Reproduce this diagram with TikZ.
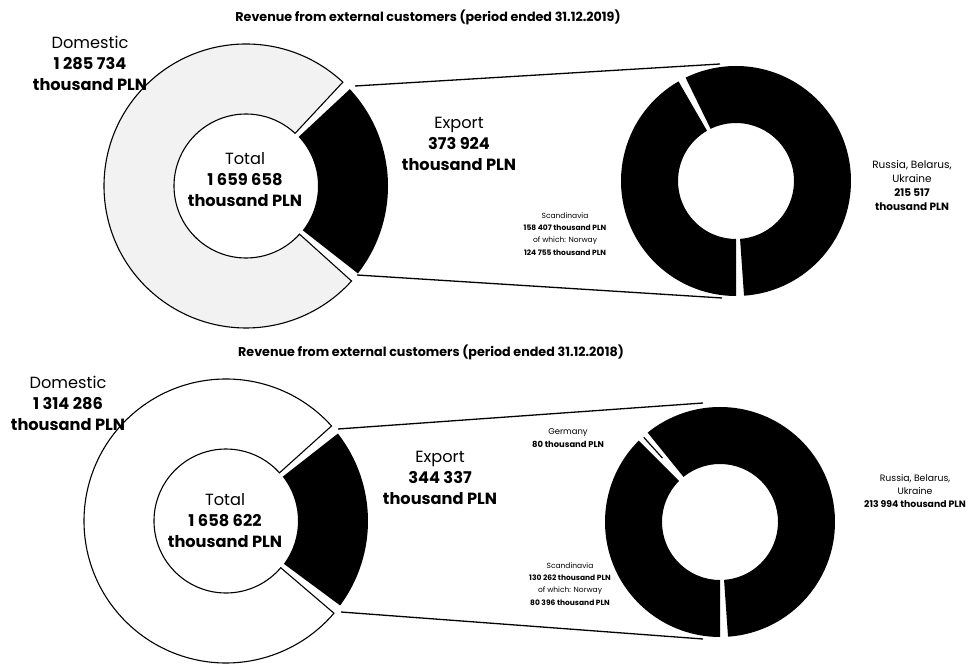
\documentclass[tikz,border=0pt]{standalone}
\usepackage{fontspec}
\setmainfont{Poppins}
\usepackage{tikz}
\usetikzlibrary{calc}
\newcommand{\ringout}{142}
\newcommand{\ringin}{72}
\newcommand{\smallout}{115}
\newcommand{\smallin}{58}
% [style]{centre}{from}{to}{inner}{outer}
\newcommand{\ringslice}[6][]{%
  \path[#1] ([shift={(#3:#6)}]#2) arc[start angle=#3, end angle=#4, radius=#6]
    -- ([shift={(#4:#5)}]#2) arc[start angle=#4, end angle=#3, radius=#5] -- cycle;}
\tikzset{
    common/.style={align=center, inner sep=1pt},
    title/.style={common, font=\fontsize{12.7}{15}\selectfont\bfseries},
    biglabel/.style={common, font=\fontsize{16.2}{21}\selectfont},
    smalllabel/.style={common, font=\fontsize{7.5}{12.3}\selectfont},
    midlabel/.style={common, font=\fontsize{9.3}{13}\selectfont},
    domestic/.style={draw, line width=1.1pt, fill=white},
    domesticgrey/.style={domestic, fill=black!5},
    export/.style={fill=black},
    leader/.style={line width=1.3pt},
    thinslice/.style={draw, line width=1.2pt}
}
\begin{document}
\begin{tikzpicture}[x=1pt, y=1pt]
  \useasboundingbox (0,0) rectangle (973,666);

  \coordinate (c19) at (246,480);
  \coordinate (e19) at (736,485);
  \coordinate (c18) at (226,145);
  \coordinate (e18) at (720,144);

  % 2019
  \ringslice[domesticgrey]{c19}{47}{318}{\ringin}{\ringout}
  \ringslice[export]{c19}{-38}{43}{\ringin}{\ringout}
  \ringslice[export]{e19}{120}{270}{\smallin}{\smallout}
  \ringslice[export]{e19}{-86}{116}{\smallin}{\smallout}

  % 2018
  \ringslice[domestic]{c18}{42}{319.5}{\ringin}{\ringout}
  \ringslice[export]{c18}{-36.5}{38}{\ringin}{\ringout}
  \ringslice[export]{e18}{135}{270}{\smallin}{\smallout}
  \ringslice[export]{e18}{-86}{129}{\smallin}{\smallout}
  \draw[thinslice] ([shift={(132:86)}]e18) -- ([shift={(132:114)}]e18);

  \coordinate (a19top) at (355,580);
  \coordinate (b19top) at (720,602);
  \coordinate (a19bot) at (357,391);
  \coordinate (b19bot) at (722,368);
  \coordinate (a18top) at (338,237);
  \coordinate (b18top) at (703,263);
  \coordinate (a18bot) at (341,54);
  \coordinate (b18bot) at (703,27);
  \draw[leader] (a19top) -- (b19top);
  \draw[leader] (a19bot) -- (b19bot);
  \draw[leader] (a18top) -- (b18top);
  \draw[leader] (a18bot) -- (b18bot);

  \node[title] (title19) at (428,649) {Revenue from external customers (period ended 31.12.2019)};
  \node[biglabel] (dom19) at (90,603) {Domestic\\\textbf{1 285 734}\\\textbf{thousand PLN}};
  \node[biglabel] (total19) at (245,486) {Total\\\textbf{1 659 658}\\\textbf{thousand PLN}};
  \node[biglabel] (exp19) at (459,522) {Export\\\textbf{373 924}\\\textbf{thousand PLN}};
  \node[smalllabel] (scan19) at (565,432) {Scandinavia\\\textbf{158 407 thousand PLN}\\of which: Norway\\\textbf{124 755 thousand PLN}};
  \node[common, font=\fontsize{10.5}{14}\selectfont] (rus19) at (912,480) {Russia, Belarus,\\Ukraine\\\textbf{215 517}\\\textbf{thousand PLN}};

  \node[title] (title18) at (431,314) {Revenue from external customers (period ended 31.12.2018)};
  \node[biglabel] (dom18) at (68,263) {Domestic\\\textbf{1 314 286}\\\textbf{thousand PLN}};
  \node[biglabel] (total18) at (225,145) {Total\\\textbf{1 658 622}\\\textbf{thousand PLN}};
  \node[biglabel] (exp18) at (440,188) {Export\\\textbf{344 337}\\\textbf{thousand PLN}};
  \node[common, font=\fontsize{8.4}{13}\selectfont] (ger18) at (568,228) {Germany\\\textbf{80 thousand PLN}};
  \node[smalllabel] (scan18) at (570,82) {Scandinavia\\\textbf{130 262 thousand PLN}\\of which: Norway\\\textbf{80 396 thousand PLN}};
  \node[midlabel] (rus18) at (915,175) {Russia, Belarus,\\Ukraine\\\textbf{213 994 thousand PLN}};
\end{tikzpicture}
\end{document}
